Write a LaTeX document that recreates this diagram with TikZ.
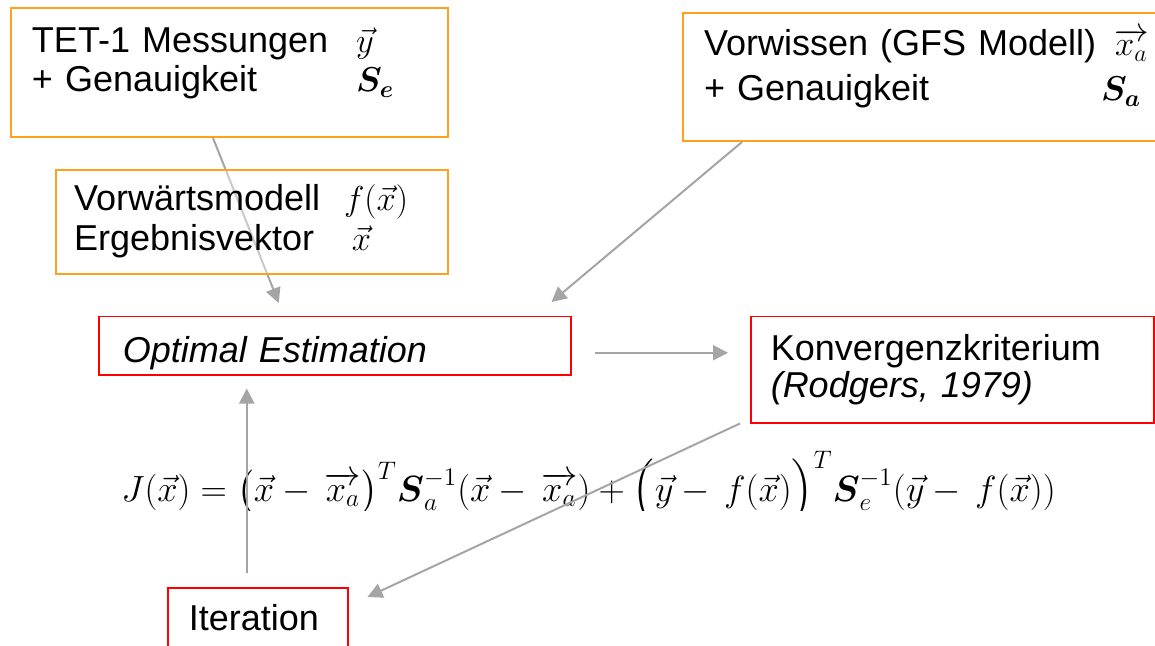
\documentclass[tikz,border=0pt]{standalone}
\usepackage[no-math]{fontspec}
\setmainfont{Liberation Sans}
\usepackage{amsmath}
\usetikzlibrary{arrows.meta,calc}
\definecolor{boxorange}{HTML}{FFA01E}
\definecolor{boxred}{HTML}{FF0000}
\definecolor{arrowgray}{HTML}{A5A5A5}

% struts that fix the top and bottom padding of the boxes
\newcommand{\topgap}[1]{\rule{0pt}{#1}}
\newcommand{\botgap}[1]{\rule[-#1]{0pt}{0pt}}

\tikzset{
  orangebox/.style={draw=boxorange, line width=1pt, fill=white, anchor=north west,
    align=left, inner ysep=0pt, font=\fontsize{18}{19.5}\selectfont},
  redbox/.style={draw=boxred, line width=0.75pt, fill=white, anchor=north west,
    align=left, inner ysep=0pt, font=\fontsize{18}{18.5}\selectfont},
  flow/.style={draw=arrowgray, line width=1pt, -{Triangle[length=7.5pt, width=7.5pt]}},
}

\begin{document}
\begin{tikzpicture}[x=0.5pt, y=-0.5pt]

\useasboundingbox (0,0) rectangle (1155,646);
\fill[white] (0,0) rectangle (1155,646);

% Input boxes
\node[orangebox, inner xsep=10.5pt, text width=197.5pt] (tet) at (10,7)
  {\topgap{22.5pt}\makebox[162pt][l]{TET-1 Messungen}$\vec{y}$\\
   \makebox[162pt][l]{+ Genauigkeit}$\boldsymbol{S_e}$\botgap{22.5pt}};

\node[orangebox, font=\fontsize{18}{22.5}\selectfont, inner xsep=10.5pt, text width=238pt] (prior) at (682,12)
  {\topgap{21.5pt}Vorwissen (GFS Modell)\, $\overrightarrow{x_a}$\\
   \makebox[198.5pt][l]{+ Genauigkeit}$\boldsymbol{S_a}$\botgap{20pt}};

% Retrieval
\node[redbox, font=\fontsize{18}{20}\selectfont, inner xsep=12pt, text width=212pt,
  text height=23pt, text depth=6pt] (opt) at (98,316) {\itshape Optimal Estimation};

\draw[flow] ($(tet.south)+(-16.5,0)$) -- ($(opt.north)+(-56,-13)$);

\node[orangebox, font=\fontsize{18}{20}\selectfont, inner xsep=9pt, text width=178pt,
  fill opacity=0.4, text opacity=1] (fwd) at (55,169)
  {\topgap{20.5pt}\makebox[135pt][l]{Vorwärtsmodell}$f(\vec{x})$\\
   \makebox[139pt][l]{Ergebnisvektor}$\vec{x}$\botgap{11.5pt}};

\node[redbox, inner xsep=10pt, text width=181.5pt] (conv) at (750,316)
  {\topgap{22pt}Konvergenzkriterium\\
   \textit{(Rodgers, 1979)}\botgap{12.5pt}};

\node[redbox, font=\fontsize{18}{20}\selectfont, inner xsep=10.5pt, text width=69pt,
  text height=21.5pt, text depth=15pt] (iter) at (167,587) {Iteration};

% Cost function (cut off at the bottom as in the slide)
\begin{scope}
  \clip (0,0) rectangle (1155,510);
  \node[anchor=base west, inner sep=0pt, font=\fontsize{18}{20}\selectfont] (cost) at (121,501)
    {\scalebox{1.055}{$J(\vec{x}) = \bigl(\vec{x} -\, \overrightarrow{x_a}\bigr)^T \boldsymbol{S}_a^{-1}(\vec{x} -\, \overrightarrow{x_a})
      + \Bigl(\vec{y} -\, f(\vec{x})\Bigr)^T \boldsymbol{S}_e^{-1}(\vec{y} -\, f(\vec{x}))$}};
\end{scope}

% Loop
\draw[flow] ($(prior.south west)+(60,0)$) -- ($(opt.north east)+(-20,-14)$);
\draw[flow] ($(opt.east)+(23,7)$) -- ($(conv.west)+(-22,-17)$);
\draw[flow] ($(conv.south west)+(-10,0)$) -- ($(iter.north east)+(19,10)$);
\draw[flow] ($(iter.north)+(-11,-14)$) -- ($(opt.south)+(-88,13)$);

\end{tikzpicture}
\end{document}
